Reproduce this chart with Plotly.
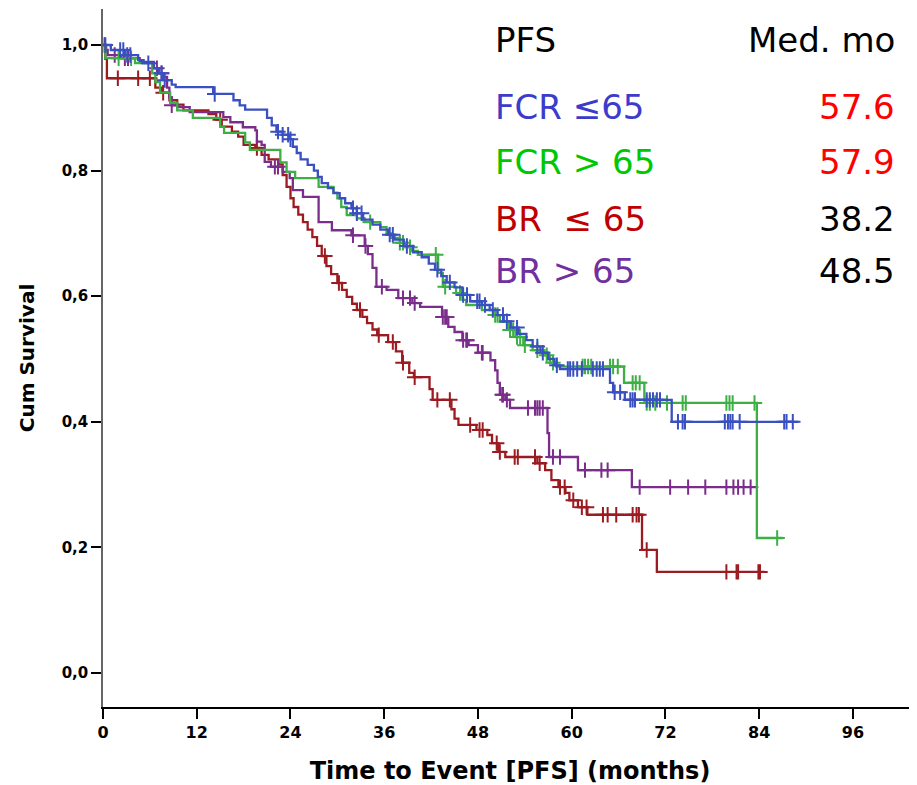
import plotly.graph_objects as go

# ---------------- data ----------------
x_ticks = [0, 12, 24, 36, 48, 60, 72, 84, 96]
y_ticks = [0.0, 0.2, 0.4, 0.6, 0.8, 1.0]
y_ticklabels = ["0,0", "0,2", "0,4", "0,6", "0,8", "1,0"]

group_names = ["FCR ≤65", "FCR > 65", "BR  ≤ 65", "BR > 65"]
median_months = ["57.6", "57.9", "38.2", "48.5"]

# FCR <= 65 (blue)
fcr_le65_times = [1.0, 2.8, 4.5, 5.2, 6.5, 7.2, 7.7, 8.8, 9.3, 14.1, 16.7, 17.5, 18.2, 21.0, 21.6,
                  22.2, 23.0, 23.8, 24.3, 24.8, 25.3, 26.2, 27.0, 27.5, 28.0, 28.8, 29.5, 30.3, 31.0,
                  31.8, 32.5, 33.3, 34.5, 35.5, 36.5, 37.3, 38.5, 39.7, 40.8, 41.7, 42.5, 43.3, 44.0,
                  45.0, 46.0, 47.0, 48.5, 49.5, 50.5, 51.3, 52.2, 53.2, 54.2, 55.0, 56.0, 57.0, 57.8,
                  58.5, 64.9, 65.3, 66.8, 72.8]
fcr_le65_surv = [0.992, 0.984, 0.976, 0.971, 0.963, 0.955, 0.944, 0.937, 0.933, 0.922, 0.912, 0.904,
                 0.897, 0.884, 0.872, 0.862, 0.857, 0.850, 0.838, 0.828, 0.818, 0.809, 0.800, 0.790,
                 0.780, 0.772, 0.764, 0.756, 0.748, 0.740, 0.732, 0.722, 0.714, 0.706, 0.698, 0.690,
                 0.680, 0.670, 0.662, 0.652, 0.642, 0.632, 0.622, 0.614, 0.602, 0.592, 0.586, 0.578,
                 0.570, 0.560, 0.550, 0.540, 0.530, 0.520, 0.510, 0.500, 0.490, 0.484, 0.462, 0.447,
                 0.435, 0.400]
fcr_le65_censor = [0.3, 2.2, 2.6, 3.1, 3.5, 5.8, 7.5, 7.9, 14.3, 22.4, 23.0, 23.7, 24.0, 32.0, 32.5,
                   33.1, 36.7, 37.1, 38.9, 42.8, 44.4, 46.1, 46.6, 47.9, 48.2, 48.9, 49.9, 51.2, 51.7,
                   53.0, 55.6, 56.3, 58.1, 59.5, 59.8, 60.2, 60.7, 61.3, 62.7, 63.2, 63.6, 64.0, 65.5,
                   66.2, 67.5, 67.8, 68.1, 69.6, 70.0, 70.4, 70.9, 71.3, 73.6, 74.2, 74.5, 79.6, 80.0,
                   80.3, 80.6, 81.5, 87.2, 87.5, 88.3]
fcr_le65_end = 89.0

# FCR > 65 (green)
fcr_gt65_times = [0.3, 4.1, 6.3, 6.7, 7.3, 8.6, 9.5, 11.5, 15.0, 15.5, 18.2, 18.8, 22.7, 23.5, 24.6,
                  27.6, 29.5, 30.0, 30.5, 31.2, 32.5, 33.5, 35.5, 36.3, 36.9, 38.0, 38.8, 39.5, 40.3,
                  42.9, 43.5, 45.2, 46.0, 46.5, 48.5, 50.0, 50.8, 52.0, 52.8, 53.8, 55.0, 56.5, 57.2,
                  58.0, 66.7, 69.3, 83.7]
fcr_gt65_surv = [0.979, 0.971, 0.955, 0.941, 0.924, 0.908, 0.896, 0.884, 0.870, 0.860, 0.845, 0.833,
                 0.813, 0.798, 0.788, 0.774, 0.765, 0.756, 0.742, 0.729, 0.724, 0.718, 0.710, 0.700,
                 0.693, 0.685, 0.678, 0.672, 0.666, 0.637, 0.615, 0.605, 0.594, 0.586, 0.578, 0.570,
                 0.559, 0.546, 0.535, 0.522, 0.514, 0.506, 0.494, 0.488, 0.462, 0.430, 0.215]
fcr_gt65_censor = [2.0, 3.6, 34.2, 38.0, 38.4, 39.3, 42.6, 43.8, 45.7, 50.2, 50.5, 52.1, 52.5, 53.0,
                   53.4, 54.0, 55.6, 56.8, 57.6, 61.4, 61.7, 62.1, 62.5, 64.9, 65.3, 65.9, 67.8, 68.2,
                   68.7, 69.6, 70.0, 70.7, 72.2, 74.2, 74.6, 79.8, 80.2, 80.6, 83.4, 86.3]
fcr_gt65_end = 87.0

# BR <= 65 (dark red)
br_le65_times = [0.3, 0.5, 6.7, 7.5, 8.5, 9.5, 10.3, 13.5, 14.5, 15.2, 16.5, 17.3, 18.0, 19.5, 20.3,
                 21.2, 22.5, 23.0, 23.5, 24.0, 24.4, 25.0, 25.6, 26.2, 26.8, 27.4, 28.0, 28.6, 29.2,
                 30.0, 30.6, 31.2, 31.9, 32.5, 33.2, 33.8, 34.5, 35.1, 36.5, 37.5, 38.3, 39.2, 39.8,
                 41.8, 42.2, 44.6, 45.0, 45.5, 47.8, 49.2, 49.8, 50.6, 51.5, 55.6, 56.6, 57.4, 58.3,
                 59.2, 59.7, 60.8, 62.0, 69.0, 70.9]
br_le65_surv = [0.978, 0.947, 0.932, 0.924, 0.912, 0.905, 0.896, 0.890, 0.881, 0.870, 0.862, 0.854,
                0.841, 0.836, 0.825, 0.818, 0.810, 0.793, 0.774, 0.756, 0.742, 0.730, 0.718, 0.706,
                0.694, 0.680, 0.664, 0.648, 0.635, 0.621, 0.610, 0.599, 0.588, 0.578, 0.567, 0.557,
                0.547, 0.538, 0.527, 0.512, 0.494, 0.478, 0.471, 0.452, 0.435, 0.420, 0.405, 0.395,
                0.387, 0.379, 0.366, 0.352, 0.344, 0.334, 0.323, 0.307, 0.296, 0.287, 0.275, 0.264,
                0.252, 0.196, 0.161]
br_le65_censor = [1.9, 4.5, 6.0, 7.7, 15.0, 19.7, 28.4, 30.2, 32.9, 35.3, 37.1, 38.4, 39.9, 42.8, 44.4,
                  47.0, 48.2, 48.6, 50.4, 50.8, 52.7, 53.1, 55.3, 55.9, 58.5, 59.1, 60.2, 61.3, 61.9,
                  64.0, 64.6, 65.7, 67.8, 68.3, 68.6, 69.6, 79.8, 81.1, 81.3, 83.9, 84.1]
br_le65_end = 84.7

# BR > 65 (purple)
br_gt65_times = [0.4, 0.6, 2.3, 4.7, 6.5, 7.0, 7.7, 8.2, 8.5, 8.8, 9.5, 11.1, 15.4, 16.3, 17.9, 19.5,
                 19.7, 20.3, 20.7, 21.5, 23.0, 23.9, 24.3, 25.6, 27.6, 29.3, 31.8, 33.5, 33.9, 34.5,
                 35.0, 36.3, 37.8, 39.6, 40.6, 43.4, 44.2, 45.0, 46.0, 46.8, 48.0, 49.6, 50.2, 50.5,
                 50.8, 51.5, 52.1, 56.9, 57.1, 60.8, 67.7]
br_gt65_surv = [0.992, 0.984, 0.979, 0.973, 0.963, 0.955, 0.949, 0.932, 0.917, 0.904, 0.901, 0.893,
                0.885, 0.877, 0.869, 0.864, 0.846, 0.841, 0.814, 0.806, 0.798, 0.788, 0.769, 0.758,
                0.718, 0.705, 0.697, 0.680, 0.667, 0.645, 0.615, 0.610, 0.597, 0.589, 0.583, 0.567,
                0.551, 0.543, 0.530, 0.522, 0.510, 0.498, 0.482, 0.462, 0.443, 0.435, 0.422, 0.382,
                0.344, 0.323, 0.296]
br_gt65_censor = [0.2, 1.5, 2.8, 3.2, 6.9, 7.5, 8.8, 22.0, 22.4, 32.0, 33.6, 35.7, 38.4, 39.3, 39.9,
                  43.5, 43.8, 44.0, 46.1, 46.5, 46.6, 48.5, 48.6, 51.1, 51.2, 51.7, 54.4, 55.3, 55.6,
                  55.9, 56.3, 57.6, 58.5, 61.7, 63.8, 64.6, 68.7, 72.6, 74.9, 77.1, 79.8, 80.7, 81.3,
                  82.0, 82.9]
br_gt65_end = 83.7

line_colors = ["#3A4FC0", "#3CB043", "#9B1B20", "#7B2D8B"]
label_colors = ["#3C3CCC", "#00C800", "#C00000", "#7030A0"]
median_colors = ["#FF0000", "#FF0000", "#000000", "#000000"]

groups = [
    (fcr_le65_times, fcr_le65_surv, fcr_le65_censor, fcr_le65_end),
    (fcr_gt65_times, fcr_gt65_surv, fcr_gt65_censor, fcr_gt65_end),
    (br_le65_times, br_le65_surv, br_le65_censor, br_le65_end),
    (br_gt65_times, br_gt65_surv, br_gt65_censor, br_gt65_end),
]


def step_value(times, surv, t):
    v = 1.0
    for ti, si in zip(times, surv):
        if ti <= t:
            v = si
        else:
            break
    return v


fig = go.Figure()
order = [2, 3, 1, 0]
for gi in order:
    times, surv, cens, end = groups[gi]
    xs = [0.0] + list(times) + [end]
    ys = [1.0] + list(surv) + [surv[-1]]
    fig.add_trace(go.Scatter(x=xs, y=ys, mode="lines",
                             line=dict(color=line_colors[gi], width=2.3, shape="hv"),
                             name=group_names[gi], hoverinfo="skip"))
    cy = [step_value(times, surv, t) for t in cens]
    fig.add_trace(go.Scatter(x=cens, y=cy, mode="markers",
                             marker=dict(symbol="cross-thin", size=11,
                                         line=dict(color=line_colors[gi], width=2)),
                             name=group_names[gi] + " censored", hoverinfo="skip"))

# page has an 8px body margin; size the figure so the plot lands where the reference has it
OFF = 8
W, H = 917 - OFF, 785 - OFF
PLOT_L, PLOT_R, PLOT_T, PLOT_B = 103, 917, 9, 707  # page pixel coords of the plot area
ml = PLOT_L - OFF
mr = (917 - PLOT_R)
mt = PLOT_T - OFF
mb = 785 - PLOT_B
pw, ph = PLOT_R - PLOT_L, PLOT_B - PLOT_T


def px(xp):
    return (xp - PLOT_L) / pw


def py(yp):
    return (PLOT_B - yp) / ph


ann_font = "DejaVu Sans"
ann_size = 34
annotations = [
    dict(text="PFS", x=px(493), y=py(40), xanchor="left", yanchor="middle",
         font=dict(family=ann_font, size=ann_size, color="black")),
    dict(text="Med. mo", x=px(897), y=py(40), xanchor="right", yanchor="middle",
         font=dict(family=ann_font, size=ann_size, color="black")),
]
row_y = [107, 162, 219, 271]
for i in range(4):
    annotations.append(dict(text=group_names[i].replace(" ", "\u00a0"), x=px(493), y=py(row_y[i]),
                            xanchor="left", yanchor="middle",
                            font=dict(family=ann_font, size=ann_size, color=label_colors[i])))
    annotations.append(dict(text=median_months[i], x=px(897), y=py(row_y[i]),
                            xanchor="right", yanchor="middle",
                            font=dict(family=ann_font, size=ann_size, color=median_colors[i])))
for a in annotations:
    a.update(xref="paper", yref="paper", showarrow=False)

fig.update_layout(
    width=W, height=H,
    margin=dict(l=ml, r=mr, t=mt, b=mb, autoexpand=False),
    paper_bgcolor="white", plot_bgcolor="white",
    showlegend=False,
    annotations=annotations,
)
fig.update_xaxes(
    range=[0, 104.2], tickvals=x_ticks, ticktext=[str(v) for v in x_ticks],
    ticks="outside", ticklen=10, tickwidth=1.5, tickcolor="black",
    showline=True, linecolor="black", linewidth=1.5, showgrid=False, zeroline=False,
    tickfont=dict(family="DejaVu Sans", size=16, weight="bold", color="black"),
    title=dict(text="Time to Event [PFS] (months)", standoff=22,
               font=dict(family="DejaVu Sans", size=24, weight="bold", color="black")),
)
fig.update_yaxes(
    range=[-0.0541, 1.0573], tickvals=y_ticks, ticktext=y_ticklabels,
    ticks="outside", ticklen=10, tickwidth=1.5, tickcolor="black",
    showline=True, linecolor="#666666", linewidth=1.5, showgrid=False, zeroline=False,
    tickfont=dict(family="DejaVu Sans", size=15, weight="bold", color="black"),
    title=dict(text="Cum Survival", standoff=22,
               font=dict(family="DejaVu Sans", size=20, weight="bold", color="black")),
)

fig.write_html("out.html")
